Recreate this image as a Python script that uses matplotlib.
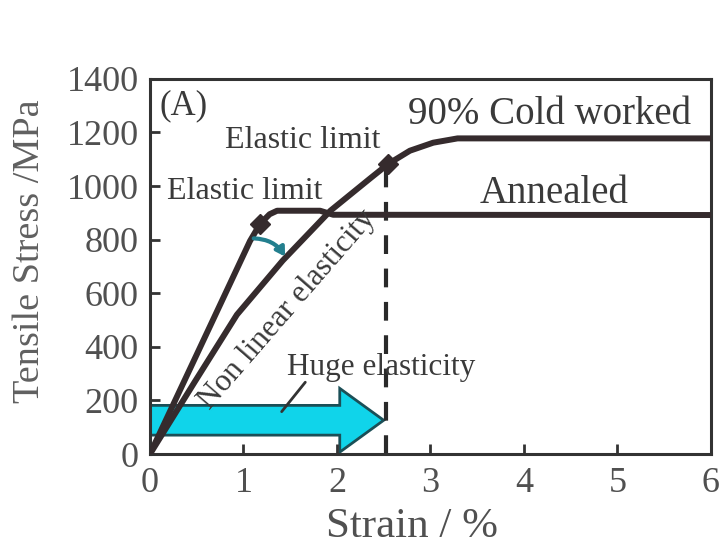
import matplotlib
matplotlib.use("Agg")
import matplotlib.pyplot as plt
from matplotlib.patches import FancyArrow

# ---- data ----
annealed_strain = [0.0, 0.66, 1.07, 1.18, 1.28, 1.36, 1.82, 1.96, 6.0]
annealed_stress = [0, 490, 795, 860, 895, 908, 908, 893, 892]

cold_strain = [0.0, 0.48, 0.93, 1.42, 1.93, 2.36, 2.55, 2.78, 3.03, 3.29, 6.0]
cold_stress = [0, 270, 520, 722, 908, 1030, 1083, 1132, 1162, 1178, 1178]

limit_strain = [1.18, 2.55]
limit_stress = [860, 1083]

x_ticks = [0, 1, 2, 3, 4, 5, 6]
y_ticks = [0, 200, 400, 600, 800, 1000, 1200, 1400]

# ---- figure ----
plt.rcParams['font.family'] = ['Liberation Serif', 'DejaVu Serif']
fig = plt.figure(figsize=(7.21, 5.48), dpi=100)
ax = fig.add_axes([0.208, 0.1715, 0.778, 0.6845])
ax.set_xlim(0, 6)
ax.set_ylim(0, 1400)

line_c = '#352b2d'
txt_c = '#3a3a3a'

# huge elasticity arrow
ax.add_patch(FancyArrow(0, 126, 2.5, 0, width=111, head_width=238, head_length=0.47,
                        length_includes_head=True, fc='#10d4ea', ec='#1b4f57',
                        lw=2, zorder=1))

# dashed line at cold-worked elastic limit
ax.plot([2.52, 2.52], [0, 1083], color='#2a2a2a', lw=3, ls=(0, (4.5, 3.5)), zorder=2)

ax.plot(annealed_strain, annealed_stress, color=line_c, lw=4.3, zorder=3,
        solid_joinstyle='round')
ax.plot(cold_strain, cold_stress, color=line_c, lw=4.3, zorder=3,
        solid_joinstyle='round')
ax.plot(limit_strain, limit_stress, ls='none', marker='D', ms=10, color=line_c, zorder=4)

# small teal arrow
ax.annotate('', xy=(1.46, 728), xytext=(1.08, 805),
            arrowprops=dict(arrowstyle='-|>,head_length=0.5,head_width=0.3',
                            connectionstyle='arc3,rad=-0.3', color='#237f8e', lw=3),
            zorder=5)

# leader line for huge elasticity
ax.annotate('', xy=(1.39, 150), xytext=(1.68, 276),
            arrowprops=dict(arrowstyle='-', color='#333333', lw=2), zorder=5)

# texts
ax.text(0.1, 1268, '(A)', fontsize=25, color=txt_c)
ax.text(0.80, 1143, 'Elastic limit', fontsize=23, color=txt_c)
ax.text(0.18, 953, 'Elastic limit', fontsize=23, color=txt_c)
ax.text(2.76, 1232, '90% Cold worked', fontsize=28, color=txt_c)
ax.text(3.53, 938, 'Annealed', fontsize=28, color=txt_c)
ax.text(1.47, 294, 'Huge elasticity', fontsize=22.5, color=txt_c)
ax.text(1.47, 540, 'Non linear elasticity', fontsize=22.5, color=txt_c,
        rotation=49, rotation_mode='anchor', ha='center', va='center')

# axes styling
for s in ax.spines.values():
    s.set_linewidth(2.2)
    s.set_color('#333333')
ax.set_xticks(x_ticks)
ax.set_yticks(y_ticks)
ax.tick_params(direction='in', length=7, width=2, color='#333333',
               labelsize=26, labelcolor='#505050')
ax.tick_params(axis='x', pad=9)
ax.tick_params(axis='y', pad=8)
ax.set_xlabel('Strain / %', fontsize=31, color='#505050')
ax.set_ylabel('Tensile Stress /MPa', fontsize=27.5, color='#606060')
ax.xaxis.set_label_coords(0.468, -0.142, transform=ax.transAxes)
ax.yaxis.set_label_coords(-0.183, 0.54, transform=ax.transAxes)

fig.savefig('out.png', dpi=100)
